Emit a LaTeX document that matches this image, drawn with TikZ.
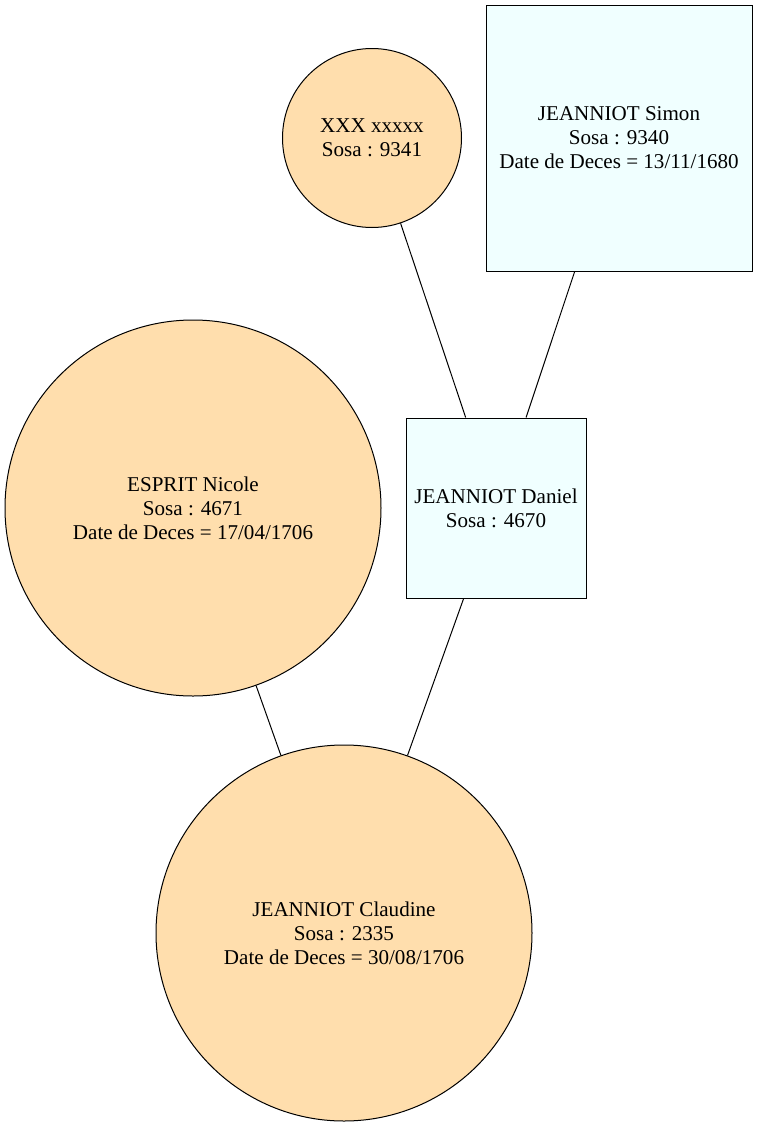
\documentclass[tikz,border=0pt]{standalone}
\usepackage{fontspec}
\setmainfont{Liberation Serif}
\usetikzlibrary{shapes}

\definecolor{navajo}{HTML}{FFDEAD}
\definecolor{azurebox}{HTML}{F0FFFF}

\tikzset{
  femme/.style={circle,draw,fill=navajo,inner sep=0pt,align=center,line width=0.75pt},
  homme/.style={rectangle,draw,fill=azurebox,inner sep=0pt,align=center,line width=0.75pt},
  lien/.style={line width=0.75pt}
}

\begin{document}
\begin{tikzpicture}[x=0.75pt,y=-0.75pt,font=\fontsize{15.8}{18}\selectfont]
\useasboundingbox (0,0) rectangle (758,1128);
\node[femme,minimum size=134.25pt] (xxx) at (372,138) {XXX xxxxx\\Sosa : 9341};
\node[homme,minimum width=199.5pt,minimum height=199.5pt] (simon) at (619,138) {JEANNIOT Simon\\Sosa : 9340\\Date de Deces = 13/11/1680};
\node[femme,minimum size=282pt] (nicole) at (193,508) {ESPRIT Nicole\\Sosa : 4671\\Date de Deces = 17/04/1706};
\node[homme,minimum width=135pt,minimum height=135pt] (daniel) at (496,508) {JEANNIOT Daniel\\Sosa : 4670};
\node[femme,minimum size=282pt] (claudine) at (344,933) {JEANNIOT Claudine\\Sosa : 2335\\Date de Deces = 30/08/1706};
\draw[lien] (xxx) -- (daniel);
\draw[lien] (simon) -- (daniel);
\draw[lien] (nicole) -- (claudine);
\draw[lien] (daniel) -- (claudine);
\end{tikzpicture}
\end{document}
